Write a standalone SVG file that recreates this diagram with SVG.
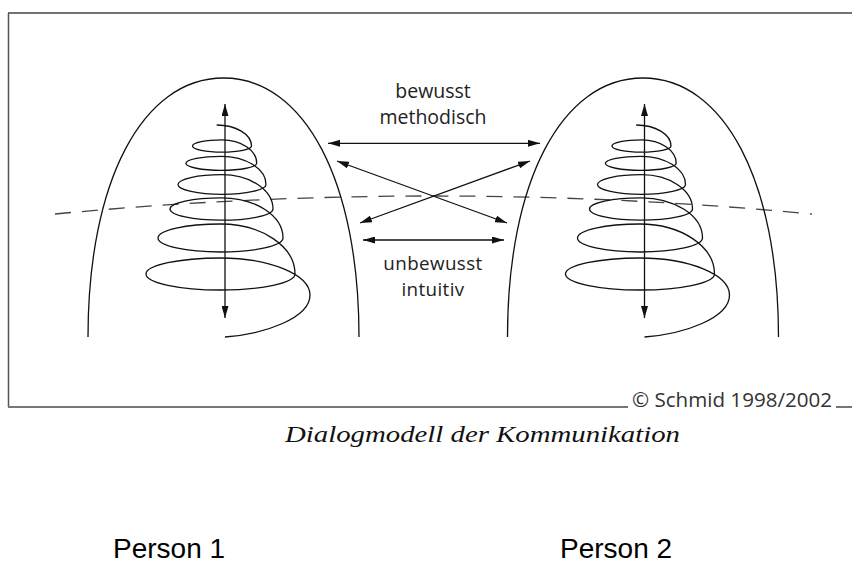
<svg xmlns="http://www.w3.org/2000/svg" xmlns:xlink="http://www.w3.org/1999/xlink" width="852" height="563" viewBox="0 0 852 563">
<style>
.ln{fill:none;stroke:#111;stroke-width:1.3}
.ar{fill:none;stroke:#111;stroke-width:1.3;marker-start:url(#ah);marker-end:url(#ah)}
.lbl{font-family:"Open Sans","DejaVu Sans",sans-serif;font-size:19.5px;fill:#222;text-anchor:middle}
.lbl2{font-family:"Open Sans","DejaVu Sans",sans-serif;font-size:18.8px;letter-spacing:0.4px;fill:#222;text-anchor:middle}
.copy{font-family:"Open Sans","DejaVu Sans",sans-serif;font-size:20.5px;fill:#333}
.cap{font-family:"Liberation Serif","Times New Roman",serif;font-style:italic;font-size:23px;fill:#111}
.per{font-family:"Liberation Sans",Arial,sans-serif;font-size:28px;fill:#000}
</style>
<defs>
<marker id="ah" viewBox="0 0 12 7" refX="12" refY="3.5" markerWidth="12" markerHeight="7" markerUnits="userSpaceOnUse" orient="auto-start-reverse">
<path d="M0,0 L12,3.5 L0,7 z" fill="#111"/>
</marker>
<g id="personShape">
<path class="ln" d="M88,337 C88,182 142,78 223.5,78 C305,78 359,182 359,337"/>
<path class="ln" d="M216.7,125 C235.9,125 251.5,134.4 251.5,146
C251.5,149.42 238.28,152.2 222,152.2 C205.72,152.2 192.5,149.42 192.5,146 C192.5,142.58 205.72,139.8 222,139.8
C241.2,139.8 256.7,150.3 256.7,163.3
C256.7,167.16 240.84,170.3 221.3,170.3 C201.76,170.3 185.9,167.16 185.9,163.3 C185.9,159.44 201.76,156.3 221.3,156.3
C246,156.3 266,168.9 266,184.5
C266,189.91 246.29,194.3 222,194.3 C197.71,194.3 178,189.91 178,184.5 C178,179.09 197.71,174.7 222,174.7
C250.2,174.7 273,190.1 273,209
C273,215.18 249.93,220.2 221.5,220.2 C193.07,220.2 170,215.18 170,209 C170,202.82 193.07,197.8 221.5,197.8
C255.4,197.8 283,215.8 283,238
C283,245.73 255,252 220.5,252 C186,252 158,245.73 158,238 C158,230.27 186,224 220.5,224
C261.6,224 295,246.4 295,274
C295,282.83 261.62,290 220.5,290 C179.38,290 146,282.83 146,274 C146,265.17 179.38,258 220.5,258
C269.9,258 310,274.6 310,295
C310,318 265,334 225,337"/>
<path class="ar" d="M225,104 L225,318"/>
</g>
</defs>
<g id="frame">
<path d="M8,13 L852,13" fill="none" stroke="#444" stroke-width="1.6"/>
<path d="M8.5,13 L8.5,407" fill="none" stroke="#555" stroke-width="1.5"/>
<path d="M8,407 L628,407 M836,407 L852,407" fill="none" stroke="#777" stroke-width="2"/>
<text class="copy" x="632" y="406.5" textLength="200" lengthAdjust="spacingAndGlyphs">© Schmid 1998/2002</text>
</g>
<path id="horizon" d="M55,214 Q433,178 812,214" fill="none" stroke="#444" stroke-width="1.3" stroke-dasharray="16 11"/>
<g id="person1">
<use xlink:href="#personShape"/>
</g>
<g id="person2">
<use xlink:href="#personShape" transform="translate(419.5,0)"/>
</g>
<g id="connectors">
<path class="ar" d="M328,143.3 L540,143.3"/>
<path class="ar" d="M337,161 L507,223"/>
<path class="ar" d="M360,223 L530,161"/>
<path class="ar" d="M363,240 L504,240"/>
</g>
<g id="labels">
<text class="lbl"><tspan x="433" y="98">bewusst</tspan><tspan x="433" y="124">methodisch</tspan></text>
<text class="lbl2"><tspan x="433" y="270.3">unbewusst</tspan><tspan x="433" y="296.3">intuitiv</tspan></text>
</g>
<text class="cap" x="285" y="442" textLength="395" lengthAdjust="spacingAndGlyphs">Dialogmodell der Kommunikation</text>
<text class="per" x="113" y="558">Person 1</text>
<text class="per" x="560" y="558">Person 2</text>
</svg>
